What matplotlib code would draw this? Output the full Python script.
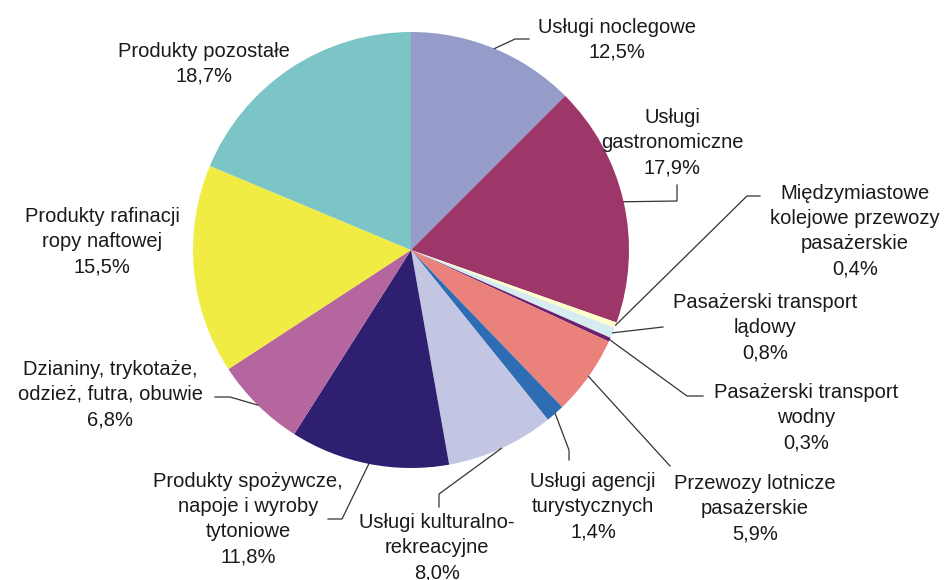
import numpy as np
import matplotlib
matplotlib.use("Agg")
import matplotlib.pyplot as plt

# ~~~~~~~~~~~~~~~~~~~~~~~~~~~~~~~~ Données ~~~~~~~~~~~~~~~~~~~~~~~~~~~~~~~~ #
kategorie = [
    "Usługi noclegowe",
    "Usługi\ngastronomiczne",
    "Międzymiastowe\nkolejowe przewozy\npasażerskie",
    "Pasażerski transport\nlądowy",
    "Pasażerski transport\nwodny",
    "Przewozy lotnicze\npasażerskie",
    "Usługi agencji\nturystycznych",
    "Usługi kulturalno-\nrekreacyjne",
    "Produkty spożywcze,\nnapoje i wyroby\ntytoniowe",
    "Dzianiny, trykotaże,\nodzież, futra, obuwie",
    "Produkty rafinacji\nropy naftowej",
    "Produkty pozostałe",
]
udzialy = [12.5, 17.9, 0.4, 0.8, 0.3, 5.9, 1.4, 8.0, 11.8, 6.8, 15.5, 18.7]
kolory = ["#959CCA", "#9E3769", "#FFFFCC", "#D6ECF0", "#6B2070", "#EA827B",
          "#2E6DB4", "#C3C6E2", "#2E1F70", "#B6669E", "#F0EC44", "#7CC5C7"]

# ~~~~~~~~~~~~~~~~~~~~~~~~~~~~~~~~ Mise en page ~~~~~~~~~~~~~~~~~~~~~~~~~~~~~ #
# coordonnées en pixels (y vers le bas) : centre du texte (x, y de la 1re ligne)
pos_texte = [(617, 27), (672, 117), (855, 193), (765, 302), (806, 392),
             (755, 483), (593, 481), (437, 522), (248, 481), (110, 369),
             (102, 216), (204, 51)]
# points de coude des lignes de rappel (après le bord du secteur)
coudes = [
    [(515, 39), (529, 39)],
    [(677, 201), (677, 185)],
    [(747, 196), (760, 196)],
    [(663, 327)],
    [(687, 396), (703, 396)],
    [(670, 466)],
    [(569, 450), (569, 460)],
    [(439, 494), (439, 507)],
    [(342, 519), (328, 519)],
    [(230, 397), (215, 397)],
    None,
    None,
]

W, H = 947, 580
cx, cy, r = 411, 250, 218
pas = 25.5  # interligne en pixels

plt.rcParams['font.family'] = ['Liberation Sans', 'DejaVu Sans']

fig = plt.figure(figsize=(W / 100, H / 100), dpi=100)
ax = fig.add_axes([0, 0, 1, 1])

wedges, _ = ax.pie(udzialy, colors=kolory, startangle=90, counterclock=False,
                   center=(cx, H - cy), radius=r,
                   wedgeprops=dict(linewidth=0))
ax.set_xlim(0, W)
ax.set_ylim(0, H)
ax.set_aspect('equal')
ax.axis('off')

for w, lab, val, (tx, ty), cd in zip(wedges, kategorie, udzialy, pos_texte, coudes):
    texte = lab + "\n" + f"{val:.1f}".replace(".", ",") + "%"
    nl = texte.count("\n")
    yc = ty + nl * pas / 2
    ax.text(tx, H - yc, texte, ha='center', va='center', fontsize=14.5,
            linespacing=1.42, color="#1a1a1a")
    if cd is None:
        continue
    ang = np.deg2rad((w.theta1 + w.theta2) / 2)
    px = cx + r * np.cos(ang)
    py = (H - cy) + r * np.sin(ang)
    xs = [px] + [p[0] for p in cd]
    ys = [py] + [H - p[1] for p in cd]
    ax.plot(xs, ys, color="#333333", lw=0.9)

fig.savefig("out.png", dpi=100)
